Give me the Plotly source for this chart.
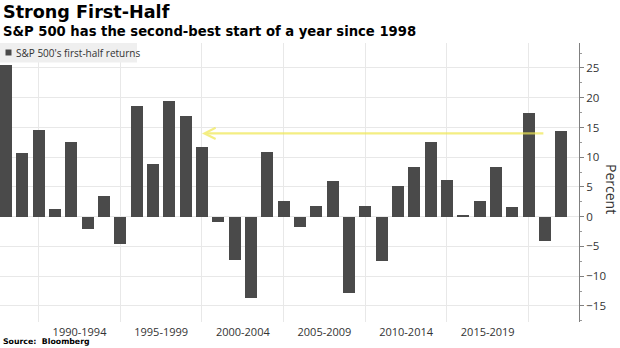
import plotly.graph_objects as go

# S&P 500 first-half (Jan-Jun) price returns, percent
years = list(range(1987, 2022))
returns = [
    25.5, 10.7, 14.5, 1.3, 12.5, -2.1, 3.4, -4.65, 18.6, 8.9,
    19.4, 16.9, 11.7, -0.95, -7.2, -13.7, 10.8, 2.6, -1.7, 1.75,
    6.0, -12.8, 1.8, -7.45, 5.1, 8.4, 12.6, 6.1, 0.2, 2.7,
    8.3, 1.7, 17.5, -4.0, 14.4,
]

# x-axis period labels, placed between the period gridlines
period_labels = ["1990-1994", "1995-1999", "2000-2004", "2005-2009", "2010-2014", "2015-2019"]
period_centers = [1991.5, 1996.5, 2001.5, 2006.5, 2011.5, 2016.5]

# reference line: 2021 start compared back to 1999
ref_level = 14.0
ref_start, ref_end = 1999, 2020

BAR = "#4a4a4a"
GRID = "#e8e8e8"
TICK_FONT = "Open Sans"

fig = go.Figure()
fig.add_trace(go.Bar(
    x=years, y=returns, width=0.74,
    marker=dict(color=BAR, line=dict(width=0)),
    showlegend=False, hoverinfo="x+y",
))

fig.update_layout(
    width=620, height=348,
    margin=dict(l=0, r=41, t=43, b=26, autoexpand=False),
    paper_bgcolor="white", plot_bgcolor="white",
    bargap=0,
    xaxis=dict(
        range=[1986.63, 2022.09],
        tickmode="array", tickvals=period_centers, ticktext=period_labels,
        showgrid=False, zeroline=False, showline=False, ticks="",
        tickfont=dict(family=TICK_FONT, size=11, color="#333333"),
        ticklabelstandoff=2,
        automargin=False,
        minor=dict(tick0=1989, dtick=5, showgrid=True, gridcolor=GRID, gridwidth=1, ticks=""),
    ),
    yaxis=dict(
        side="right",
        range=[-17.7, 29.2],
        tickmode="linear", tick0=0, dtick=5,
        showgrid=True, gridcolor=GRID, gridwidth=1,
        zeroline=False,
        showline=True, linecolor="#808080", linewidth=1,
        ticks="outside", ticklen=4, tickcolor="#808080", tickwidth=1,
        tickfont=dict(family=TICK_FONT, size=11.5, color="#333333"),
        ticklabelstandoff=0,
        automargin=False,
        minor=dict(dtick=2.5, tick0=0, ticks="outside", ticklen=2, tickcolor="#9a9a9a", showgrid=False),
    ),
    font=dict(family=TICK_FONT),
)

# arrow from the 2020 position back to the 1999 boundary at the 2021 level
fig.add_annotation(
    x=ref_start, y=ref_level, ax=ref_end, ay=ref_level,
    xref="x", yref="y", axref="x", ayref="y",
    text="", showarrow=True,
    arrowhead=5, arrowsize=1.0, arrowwidth=2.2,
    arrowcolor="rgba(240,232,80,0.7)",
)

# legend box
fig.add_shape(type="rect", xref="paper", yref="paper",
              x0=0, x1=137 / 579, y0=1 - 19.5 / 279, y1=1.0,
              fillcolor="#efefef", line=dict(width=0), layer="above")
fig.add_shape(type="rect", xref="paper", yref="paper",
              x0=5.5 / 579, x1=11.5 / 579, y0=1 - 12.5 / 279, y1=1 - 6.5 / 279,
              fillcolor=BAR, line=dict(width=0), layer="above")
fig.add_annotation(
    xref="paper", yref="paper", x=13.5 / 579, y=1 - 9.5 / 279,
    xanchor="left", yanchor="middle", showarrow=False,
    text="S&P 500's first-half returns",
    font=dict(family=TICK_FONT, size=10, color="#333333"),
)

# titles
fig.add_annotation(
    xref="paper", yref="paper", x=0, y=1 + 31 / 279,
    xanchor="left", yanchor="middle", showarrow=False, xshift=1,
    text="<b>Strong First-Half</b>",
    font=dict(family="DejaVu Sans", size=17.6, color="#000000"),
)
fig.add_annotation(
    xref="paper", yref="paper", x=0, y=1 + 12 / 279,
    xanchor="left", yanchor="middle", showarrow=False, xshift=1,
    text="<b>S&P 500 has the second-best start of a year since 1998</b>",
    font=dict(family="DejaVu Sans", size=13.2, color="#000000"),
)

# axis title on the right, reading downward
fig.add_annotation(
    xref="paper", yref="paper", x=1 + 33 / 579, y=(322 - 189) / 279,
    xanchor="center", yanchor="middle", showarrow=False,
    text="Percent", textangle=90,
    font=dict(family=TICK_FONT, size=14, color="#333333"),
)

# source note
fig.add_annotation(
    xref="paper", yref="paper", x=0, y=-19 / 279,
    xanchor="left", yanchor="middle", showarrow=False, xshift=1,
    text="<b>Source:  Bloomberg</b>",
    font=dict(family="DejaVu Sans", size=7.8, color="#000000"),
)

fig.write_html("out.html")
